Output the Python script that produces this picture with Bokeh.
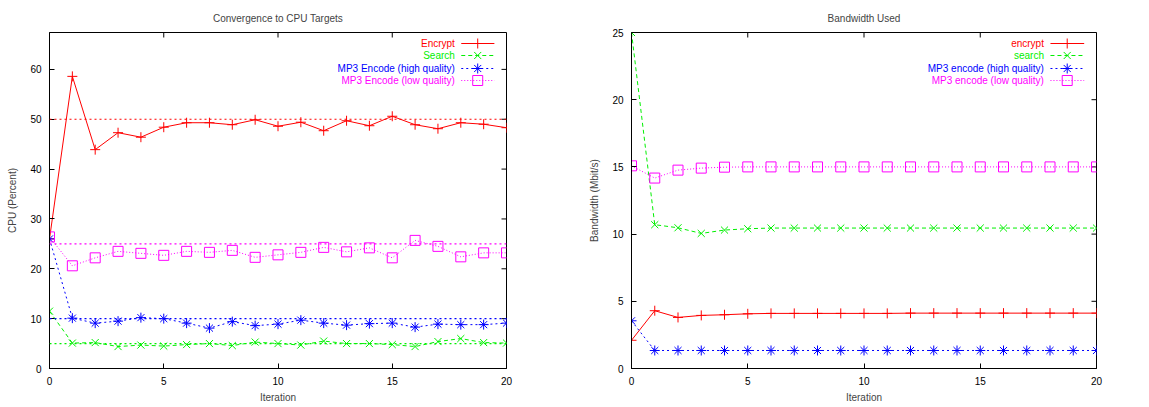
from bokeh.plotting import figure
from bokeh.layouts import row
from bokeh.models import FixedTicker, Range1d, Span
from bokeh.core.properties import value
from bokeh.embed import file_html
from bokeh.resources import INLINE

# ---------------- data ----------------
iterations = list(range(21))

cpu_encrypt = [26.0, 58.6, 43.9, 47.3, 46.4, 48.4, 49.3, 49.3, 48.9, 49.9, 48.6,
               49.4, 47.7, 49.7, 48.7, 50.6, 48.9, 48.1, 49.3, 49.0, 48.3]
cpu_search = [11.5, 5.1, 5.2, 4.4, 4.7, 4.5, 4.8, 5.0, 4.6, 5.3, 5.0,
              4.7, 5.5, 5.0, 5.0, 4.8, 4.4, 5.4, 6.0, 5.2, 5.1]
cpu_mp3_high = [26.0, 10.1, 9.1, 9.5, 10.2, 10.0, 9.1, 8.1, 9.4, 8.6, 8.9,
                9.7, 9.1, 8.7, 9.0, 9.1, 8.3, 8.9, 8.8, 8.8, 9.1]
cpu_mp3_low = [26.4, 20.6, 22.2, 23.5, 23.1, 22.7, 23.5, 23.3, 23.7, 22.3, 22.8,
               23.3, 24.3, 23.4, 24.2, 22.2, 25.7, 24.5, 22.4, 23.2, 23.2]
cpu_targets = [50, 5, 10, 25]  # encrypt, search, mp3 high, mp3 low

bw_encrypt = [2.1, 4.3, 3.8, 3.95, 4.0, 4.07, 4.1, 4.1, 4.1, 4.1, 4.1,
              4.1, 4.12, 4.12, 4.12, 4.12, 4.12, 4.12, 4.12, 4.12, 4.12]
bw_search = [25.0, 10.7, 10.47, 10.05, 10.3, 10.4, 10.45, 10.45, 10.45, 10.45, 10.45,
             10.45, 10.45, 10.45, 10.45, 10.45, 10.45, 10.45, 10.45, 10.45, 10.45]
bw_mp3_high = [3.55, 1.34, 1.34, 1.34, 1.34, 1.34, 1.34, 1.34, 1.34, 1.34, 1.34,
               1.34, 1.34, 1.34, 1.34, 1.34, 1.34, 1.34, 1.34, 1.34, 1.34]
bw_mp3_low = [15.08, 14.17, 14.76, 14.91, 14.98, 15.0, 15.0, 15.0, 15.0, 15.0, 15.0,
              15.0, 15.0, 15.0, 15.0, 15.0, 15.0, 15.0, 15.0, 15.0, 15.0]

cpu_labels = ["Encrypt", "Search", "MP3 Encode (high quality)", "MP3 Encode (low quality)"]
bw_labels = ["encrypt", "search", "MP3 encode (high quality)", "MP3 encode (low quality)"]

x_ticks = [0, 5, 10, 15, 20]
cpu_ticks = [0, 10, 20, 30, 40, 50, 60]
bw_ticks = [0, 5, 10, 15, 20, 25]

# ---------------- styles ----------------
FONT = "Liberation Sans"
FS = "10px"
COLORS = ["#ff0000", "#00f000", "#0000ff", "#ff00ff"]
DASHES = ["solid", "4 3", "2 3", "1 2"]
MARKERS = ["cross", "x", "asterisk", "square"]
MSIZES = [10, 10, 10, 10]
TARGET_DASH = "2 3"

FRAME_H = 336
TICK_LEN = 5


def make_fig(title, ylabel, ymax, yticks, width, bl, br):
    p = figure(width=width, height=407, output_backend="svg", toolbar_location=None,
               x_range=Range1d(0, 20), y_range=Range1d(0, ymax),
               min_border_left=bl, min_border_right=br,
               min_border_top=32, min_border_bottom=39)
    p.title.text = title
    p.title.align = "center"
    p.title.text_font = FONT
    p.title.text_font_size = FS
    p.title.text_font_style = "normal"
    p.title.standoff = 18
    p.grid.visible = False
    p.outline_line_color = "black"
    p.outline_line_width = 1
    p.outline_line_alpha = 1
    p.background_fill_color = "white"
    p.border_fill_color = "white"

    for ax in (p.xaxis[0], p.yaxis[0]):
        ax.major_tick_in = TICK_LEN
        ax.major_tick_out = 0
        ax.minor_tick_line_color = None
        ax.major_label_text_font = FONT
        ax.major_label_text_font_size = FS
        ax.major_label_text_color = "black"
        ax.axis_label_text_font = FONT
        ax.axis_label_text_font_size = FS
        ax.axis_label_text_font_style = "normal"
        ax.axis_line_color = "black"
        ax.major_label_standoff = 8
    p.xaxis.ticker = FixedTicker(ticks=x_ticks)
    p.yaxis.ticker = FixedTicker(ticks=yticks)
    p.xaxis.axis_label = "Iteration"
    p.yaxis.axis_label = ylabel
    p.xaxis.axis_label_standoff = 4
    p.yaxis.axis_label_standoff = 9
    return p


def mirror_ticks(p, ymax, yticks, frame_w):
    # gnuplot mirrors the tick marks on the top and right borders
    uy = ymax / FRAME_H
    ux = 20 / frame_w
    p.segment(x0=x_ticks, y0=[ymax] * len(x_ticks), x1=x_ticks,
              y1=[ymax - TICK_LEN * uy] * len(x_ticks), line_color="black", line_width=1)
    p.segment(x0=[20] * len(yticks), y0=yticks, x1=[20 - TICK_LEN * ux] * len(yticks),
              y1=yticks, line_color="black", line_width=1)


def draw_series(p, series):
    for i, ys in enumerate(series):
        p.line(iterations, ys, line_color=COLORS[i], line_width=1, line_dash=DASHES[i])
        p.scatter(iterations, ys, marker=MARKERS[i], size=MSIZES[i], line_color=COLORS[i],
                  fill_color=None, line_width=1)


def draw_legend(p, labels, ymax):
    # gnuplot-style legend: right-aligned text, then a line sample with the marker
    unit_y = ymax / FRAME_H
    rows_px = [11, 23, 36, 48]
    for i, lab in enumerate(labels):
        y = ymax - rows_px[i] * unit_y
        p.text(x=[17.74], y=[y], text=[lab], text_align="right", text_baseline="middle",
               text_font=value(FONT), text_font_size=FS, text_color=COLORS[i])
        p.line([18.02, 19.47], [y, y], line_color=COLORS[i], line_width=1, line_dash=DASHES[i])
        p.scatter([18.74], [y], marker=MARKERS[i], size=MSIZES[i], line_color=COLORS[i],
                  fill_color=None, line_width=1)


# ---------------- CPU figure ----------------
cpu_ymax = 67.4
p1 = make_fig("Convergence to CPU Targets", "CPU (Percent)", cpu_ymax, cpu_ticks, 580, 49, 74)
mirror_ticks(p1, cpu_ymax, cpu_ticks, 457)
for i, t in enumerate(cpu_targets):
    p1.add_layout(Span(location=t, dimension="width", line_color=COLORS[i],
                       line_dash=TARGET_DASH, line_width=1.2))
draw_series(p1, [cpu_encrypt, cpu_search, cpu_mp3_high, cpu_mp3_low])
draw_legend(p1, cpu_labels, cpu_ymax)

# ---------------- Bandwidth figure ----------------
bw_ymax = 25
p2 = make_fig("Bandwidth Used", "Bandwidth (Mbit/s)", bw_ymax, bw_ticks, 569, 51, 53)
mirror_ticks(p2, bw_ymax, bw_ticks, 465)
draw_series(p2, [bw_encrypt, bw_search, bw_mp3_high, bw_mp3_low])
draw_legend(p2, bw_labels, bw_ymax)

layout = row(p1, p2)
open("out.html", "w").write(file_html(layout, INLINE))
